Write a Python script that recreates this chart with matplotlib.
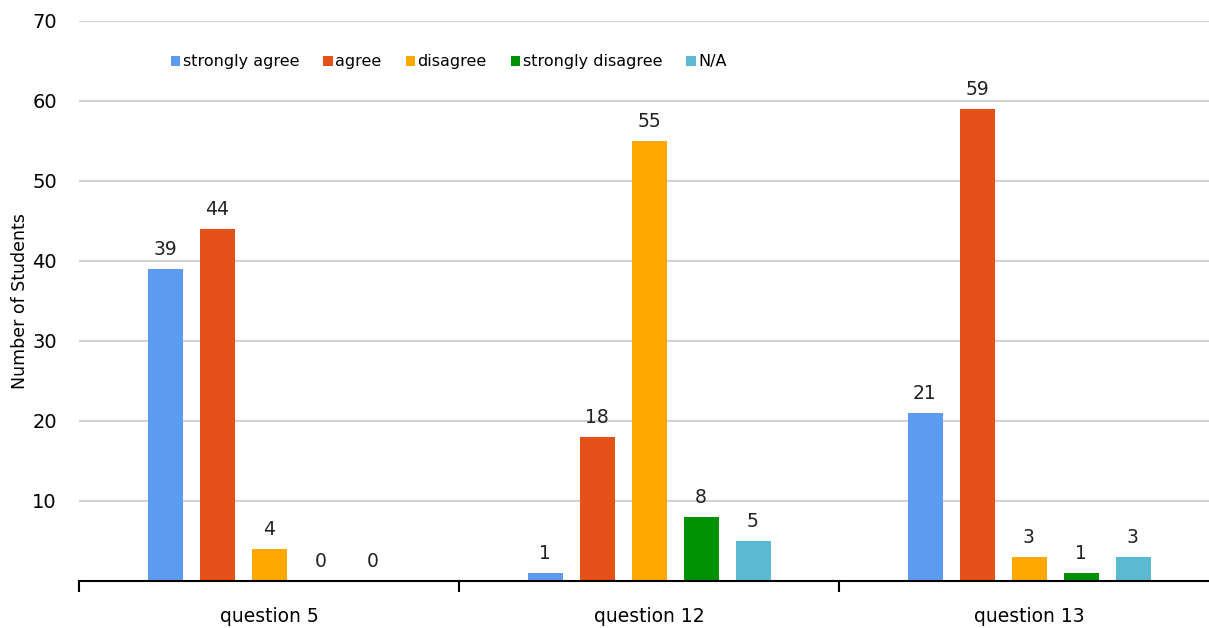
import numpy as np
import matplotlib
matplotlib.use('Agg')
import matplotlib.pyplot as plt

plt.rcParams['font.family'] = ['DejaVu Sans']

# 数据
questions = ['question 5', 'question 12', 'question 13']
series_names = ['strongly agree', 'agree', 'disagree', 'strongly disagree', 'N/A']
strongly_agree = [39, 1, 21]
agree = [44, 18, 59]
disagree = [4, 55, 3]
strongly_disagree = [0, 8, 1]
not_applicable = [0, 5, 3]
series_values = [strongly_agree, agree, disagree, strongly_disagree, not_applicable]
colors = ['#5B9CF0', '#E45119', '#FFA800', '#009100', '#5BB9D1']

fig = plt.figure(figsize=(12.09, 6.28), dpi=100)
ax = fig.add_axes([79 / 1209, 47 / 628, 1140 / 1209, 560 / 628])

x = np.arange(len(questions))
pitch = 52 / 380
width = 35 / 380
for i, (name, vals, c) in enumerate(zip(series_names, series_values, colors)):
    pos = x + (i - 2) * pitch
    bars = ax.bar(pos, vals, width, color=c, label=name, zorder=3)
    for b, v in zip(bars, vals):
        ax.text(b.get_x() + b.get_width() / 2, v + 1.3, str(v),
                ha='center', va='bottom', fontsize=13.5, color='#222222')

ax.set_xlim(-0.5, 2.5)
ax.set_ylim(0, 70)
ax.set_yticks(range(10, 80, 10))
ax.tick_params(axis='y', length=0, labelsize=14, pad=16)
ax.yaxis.grid(True, color='#D3D3D3', linewidth=1.5, zorder=0)
ax.set_ylabel('Number of Students', fontsize=12.5, labelpad=2)

# 类别标签放在分隔刻度之间
ax.set_xticks([-0.5, 0.5, 1.5, 2.5])
ax.set_xticklabels([])
ax.set_xticks(x, minor=True)
ax.set_xticklabels(questions, minor=True, fontsize=13.5)
ax.tick_params(axis='x', which='major', length=8, width=1.5, direction='out')
ax.tick_params(axis='x', which='minor', length=0, pad=19)

for s in ['top', 'right', 'left']:
    ax.spines[s].set_visible(False)
ax.spines['bottom'].set_linewidth(1.5)
ax.spines['bottom'].set_zorder(4)

ax.legend(loc='upper left', bbox_to_anchor=(0.068, 0.966), ncol=5, frameon=False,
          handlelength=0.6, handleheight=0.6, handletextpad=0.15, columnspacing=1.5,
          fontsize=11.5)

fig.savefig('out.png', dpi=100)
